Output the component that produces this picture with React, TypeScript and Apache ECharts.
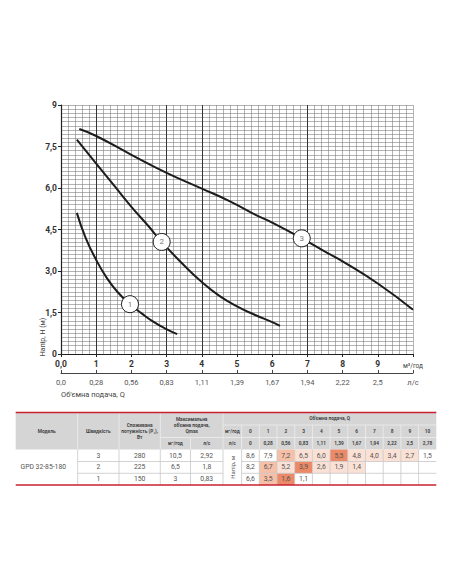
import * as echarts from "echarts";
import React, { useEffect, useRef } from "react";

// ---- chart data ----
const Q_LABELS_M3 = ["0,0", "1", "2", "3", "4", "5", "6", "7", "8", "9", "м³/год"];
const Q_LABELS_LS = ["0,0", "0,28", "0,56", "0,83", "1,11", "1,39", "1,67", "1,94", "2,22", "2,5", "л/с"];
const H_LABELS = ["0", "1,5", "3,0", "4,5", "6,0", "7,5", "9"];
const MAJOR_Q = [1, 3, 4, 7];

const curve1 = [
  [0.45, 5.1], [0.7, 4.2], [1.0, 3.4], [1.3, 2.75], [1.6, 2.25],
  [1.96, 1.8], [2.3, 1.46], [2.62, 1.17], [2.95, 0.93], [3.3, 0.72],
];
const curve2 = [
  [0.45, 7.75], [1, 6.88], [1.5, 6.1], [2, 5.32], [2.5, 4.6], [2.86, 4.05],
  [3.5, 3.2], [4, 2.6], [4.5, 2.1], [5, 1.72], [5.5, 1.42], [6, 1.15], [6.22, 1.02],
];
const curve3 = [
  [0.52, 8.13], [1, 7.88], [2, 7.2], [3, 6.55], [4, 5.98], [4.8, 5.52], [5.5, 5.05],
  [6, 4.75], [6.84, 4.18], [7.5, 3.7], [8, 3.35], [9, 2.55], [10, 1.6],
];
const curveTags = [
  [1.96, 1.8, "1"],
  [2.86, 4.05, "2"],
  [6.84, 4.18, "3"],
];

// ---- table data ----
const tableSpeeds = [3, 2, 1];
const tablePower = [280, 225, 150];
const tableQmaxM3 = [10.5, 6.5, 3];
const tableQmaxLs = [2.92, 1.8, 0.83];
const tableQM3 = ["0", "1", "2", "3", "4", "5", "6", "7", "8", "9", "10"];
const tableQLs = ["0", "0,28", "0,56", "0,83", "1,11", "1,39", "1,67", "1,94", "2,22", "2,5", "2,78"];
const headSpeed3 = [8.6, 7.9, 7.2, 6.5, 6.0, 5.5, 4.8, 4.0, 3.4, 2.7, 1.5];
const headSpeed2 = [8.2, 6.7, 5.2, 3.9, 2.6, 1.9, 1.4];
const headSpeed1 = [6.6, 3.5, 1.6, 1.1];
const levelSpeed3 = [0, 0, 2, 1, 1, 3, 1, 1, 1, 1, 0];
const levelSpeed2 = [0, 2, 1, 3, 1, 1, 1];
const levelSpeed1 = [0, 2, 3, 0];

const FONT = "Roboto, 'Noto Sans', sans-serif";
const LEVEL_FILL = ["", "#fbe1d5", "#f6bfa7", "#ec8966"];

const comma = (v: number) => String(v).replace(".", ",");

const txt = (
  text: string,
  x: number,
  y: number,
  o: { size?: number; weight?: string; fill?: string; align?: string; rotate?: number; lh?: number } = {}
) => ({
  type: "text",
  silent: true,
  x,
  y,
  rotation: o.rotate || 0,
  style: {
    text,
    x: 0,
    y: 0,
    align: o.align || "center",
    verticalAlign: "middle",
    textAlign: o.align || "center",
    textVerticalAlign: "middle",
    fontSize: o.size || 6.8,
    fontWeight: o.weight || "normal",
    fontFamily: FONT,
    fill: o.fill || "#555",
    lineHeight: o.lh,
  },
});

const ln = (x1: number, y1: number, x2: number, y2: number, stroke: string, w = 0.8) => ({
  type: "line",
  silent: true,
  shape: { x1, y1, x2, y2 },
  style: { stroke, lineWidth: w },
});

const rc = (x: number, y: number, width: number, height: number, fill: string) => ({
  type: "rect",
  silent: true,
  shape: { x, y, width, height },
  style: { fill },
});

function buildTable() {
  const colX = [15.7, 77.7, 119, 160.3, 190.5, 223, 241.6];
  const qW = 17.7;
  const qx = (i: number) => 241.6 + i * qW;
  const right = qx(11);
  const rowY = [412.5, 425, 437.5, 449.5, 461.5, 473.3, 485];
  const headerLine = "#eeeeee";
  const bodyLine = "#c8c8c8";
  const heads = [headSpeed3, headSpeed2, headSpeed1];
  const levels = [levelSpeed3, levelSpeed2, levelSpeed1];

  const bg: any[] = [rc(colX[0], rowY[0], right - colX[0], rowY[3] - rowY[0], "#d5d5d5")];
  const lines: any[] = [];
  const texts: any[] = [];

  // coloured cells
  heads.forEach((row, r) => {
    row.forEach((_, c) => {
      const lv = levels[r][c];
      if (lv) bg.push(rc(qx(c), rowY[3 + r], qW, rowY[4 + r] - rowY[3 + r], LEVEL_FILL[lv]));
    });
  });

  // header separators
  [1, 2, 3, 5].forEach((i) => lines.push(ln(colX[i], rowY[0], colX[i], rowY[3], headerLine)));
  lines.push(ln(colX[4], rowY[2], colX[4], rowY[3], headerLine));
  for (let i = 0; i <= 10; i++) lines.push(ln(qx(i), rowY[1], qx(i), rowY[3], headerLine));
  lines.push(ln(colX[5], rowY[1], right, rowY[1], headerLine));
  lines.push(ln(colX[3], rowY[2], right, rowY[2], headerLine));

  // body lines
  [1, 2, 3, 4, 5, 6].forEach((i) => lines.push(ln(colX[i], rowY[3], colX[i], rowY[6], bodyLine)));
  for (let i = 1; i <= 10; i++) lines.push(ln(qx(i), rowY[3], qx(i), rowY[6], bodyLine));
  [4, 5].forEach((r) => {
    lines.push(ln(colX[1], rowY[r], colX[5], rowY[r], bodyLine));
    lines.push(ln(colX[6], rowY[r], right, rowY[r], bodyLine));
  });

  // red rules
  lines.push(ln(colX[0], rowY[0], right, rowY[0], "#c8202f", 1.3));
  lines.push(ln(colX[0], rowY[6], right, rowY[6], "#c8202f", 1.3));

  // header text
  const hb = { size: 4.8, weight: "bold", fill: "#444", lh: 6 };
  const hMid = (rowY[0] + rowY[3]) / 2;
  texts.push(txt("Модель", (colX[0] + colX[1]) / 2, hMid, hb));
  texts.push(txt("Швидкість", (colX[1] + colX[2]) / 2, hMid, hb));
  texts.push(txt("Споживана\nпотужність (P₁),\nВт", (colX[2] + colX[3]) / 2, hMid, hb));
  texts.push(txt("Максимальна\nоб'ємна подача,\nQmax", (colX[3] + colX[5]) / 2, (rowY[0] + rowY[2]) / 2, hb));
  const cMid = (rowY[2] + rowY[3]) / 2;
  const bMid = (rowY[1] + rowY[2]) / 2;
  texts.push(txt("м³/год", (colX[3] + colX[4]) / 2, cMid, hb));
  texts.push(txt("л/с", (colX[4] + colX[5]) / 2, cMid, hb));
  texts.push(txt("Об'ємна подача, Q", (colX[5] + right) / 2, (rowY[0] + rowY[1]) / 2, hb));
  texts.push(txt("м³/год", (colX[5] + colX[6]) / 2, bMid, hb));
  texts.push(txt("л/с", (colX[5] + colX[6]) / 2, cMid, hb));
  tableQM3.forEach((s, i) => texts.push(txt(s, qx(i) + qW / 2, bMid, hb)));
  tableQLs.forEach((s, i) => texts.push(txt(s, qx(i) + qW / 2, cMid, hb)));

  // body text
  texts.push(txt("GPD 32-85-180", 20.5, (rowY[3] + rowY[6]) / 2, { size: 6.8, align: "left" }));
  texts.push(txt("Напір, м", (colX[5] + colX[6]) / 2, (rowY[3] + rowY[6]) / 2, { size: 6, rotate: Math.PI / 2 }));
  tableSpeeds.forEach((s, r) => {
    const y = (rowY[3 + r] + rowY[4 + r]) / 2;
    texts.push(txt(String(s), (colX[1] + colX[2]) / 2, y));
    texts.push(txt(String(tablePower[r]), (colX[2] + colX[3]) / 2, y));
    texts.push(txt(comma(tableQmaxM3[r]), (colX[3] + colX[4]) / 2, y));
    texts.push(txt(comma(tableQmaxLs[r]), (colX[4] + colX[5]) / 2, y));
    heads[r].forEach((v, c) => texts.push(txt(v.toFixed(1).replace(".", ","), qx(c) + qW / 2, y)));
  });

  return [...bg, ...lines, ...texts];
}

const App: React.FC = () => {
  const chartRef = useRef<HTMLDivElement | null>(null);

  useEffect(() => {
    if (!chartRef.current) return;
    const chart = echarts.init(chartRef.current, undefined, { renderer: "svg" });

    const gridLine = { color: "#7f7f7f", width: 0.6 };
    const curveStyle = { color: "#1c1c1c", width: 2 };

    const option: any = {
      animation: false,
      textStyle: { fontFamily: FONT },
      grid: { left: 61, top: 105, width: 352, height: 249 },
      xAxis: [
        {
          type: "value",
          min: 0,
          max: 10,
          interval: 1,
          position: "bottom",
          axisLine: { lineStyle: { color: "#222", width: 1.2 } },
          axisTick: { show: true, length: 3, lineStyle: { color: "#222" } },
          axisLabel: {
            margin: 5,
            fontSize: 8.5,
            fontWeight: "bold",
            color: "#333",
            formatter: (v: number) => {
              const i = Math.round(v);
              return i === 10 ? "{u|" + Q_LABELS_M3[i] + "}" : Q_LABELS_M3[i];
            },
            rich: { u: { fontSize: 6.5, fontWeight: "normal", color: "#444", padding: [3, 0, 0, 0] } },
          },
          splitLine: { show: true, lineStyle: gridLine },
          minorTick: { show: false, splitNumber: 5 },
          minorSplitLine: { show: true, lineStyle: gridLine },
        },
        {
          type: "value",
          min: 0,
          max: 10,
          interval: 1,
          position: "bottom",
          offset: 19,
          axisLine: { show: true, lineStyle: { color: "#444", width: 1 } },
          axisTick: { show: true, inside: true, length: 3, lineStyle: { color: "#444" } },
          axisLabel: {
            margin: 5,
            fontSize: 7.5,
            color: "#555",
            formatter: (v: number) => Q_LABELS_LS[Math.round(v)],
          },
          splitLine: { show: false },
        },
      ],
      yAxis: {
        type: "value",
        min: 0,
        max: 9,
        interval: 1.5,
        axisLine: { show: true, lineStyle: { color: "#222", width: 1.2 } },
        axisTick: { show: true, length: 3, lineStyle: { color: "#222" } },
        axisLabel: {
          margin: 4,
          fontSize: 8.5,
          fontWeight: "bold",
          color: "#333",
          formatter: (v: number) => H_LABELS[Math.round(v / 1.5)],
        },
        splitLine: { show: true, lineStyle: gridLine },
        minorTick: { show: false, splitNumber: 10 },
        minorSplitLine: { show: true, lineStyle: gridLine },
      },
      series: [
        {
          type: "line",
          data: curve3,
          smooth: true,
          showSymbol: false,
          lineStyle: curveStyle,
          z: 3,
          markLine: {
            silent: true,
            symbol: ["none", "none"],
            label: { show: false },
            lineStyle: { color: "#333", width: 1, type: "solid" },
            data: MAJOR_Q.map((q) => ({ xAxis: q })),
            z: 2,
          },
        },
        { type: "line", data: curve2, smooth: true, showSymbol: false, lineStyle: curveStyle, z: 3 },
        { type: "line", data: curve1, smooth: true, showSymbol: false, lineStyle: curveStyle, z: 3 },
        {
          type: "scatter",
          data: curveTags,
          symbol: "circle",
          symbolSize: 17,
          z: 5,
          itemStyle: { color: "#fff", borderColor: "#222", borderWidth: 1, opacity: 1 },
          label: {
            show: true,
            position: "inside",
            formatter: (p: any) => p.value[2],
            color: "#777",
            fontSize: 8,
          },
        },
      ],
      graphic: [
        txt("Об'ємна подача, Q", 61, 394.5, { size: 7.5, fill: "#444", align: "left" }),
        txt("Напір, Н (м)", 43, 337, { size: 7, fill: "#444", rotate: Math.PI / 2 }),
        ...buildTable(),
      ],
    };

    chart.setOption(option);

    return () => {
      chart.dispose();
    };
  }, []);

  return (
    <div
      ref={chartRef}
      style={{ position: "fixed", left: 0, top: 0, width: "452px", height: "584px", background: "#fff" }}
    />
  );
};

export default App;
